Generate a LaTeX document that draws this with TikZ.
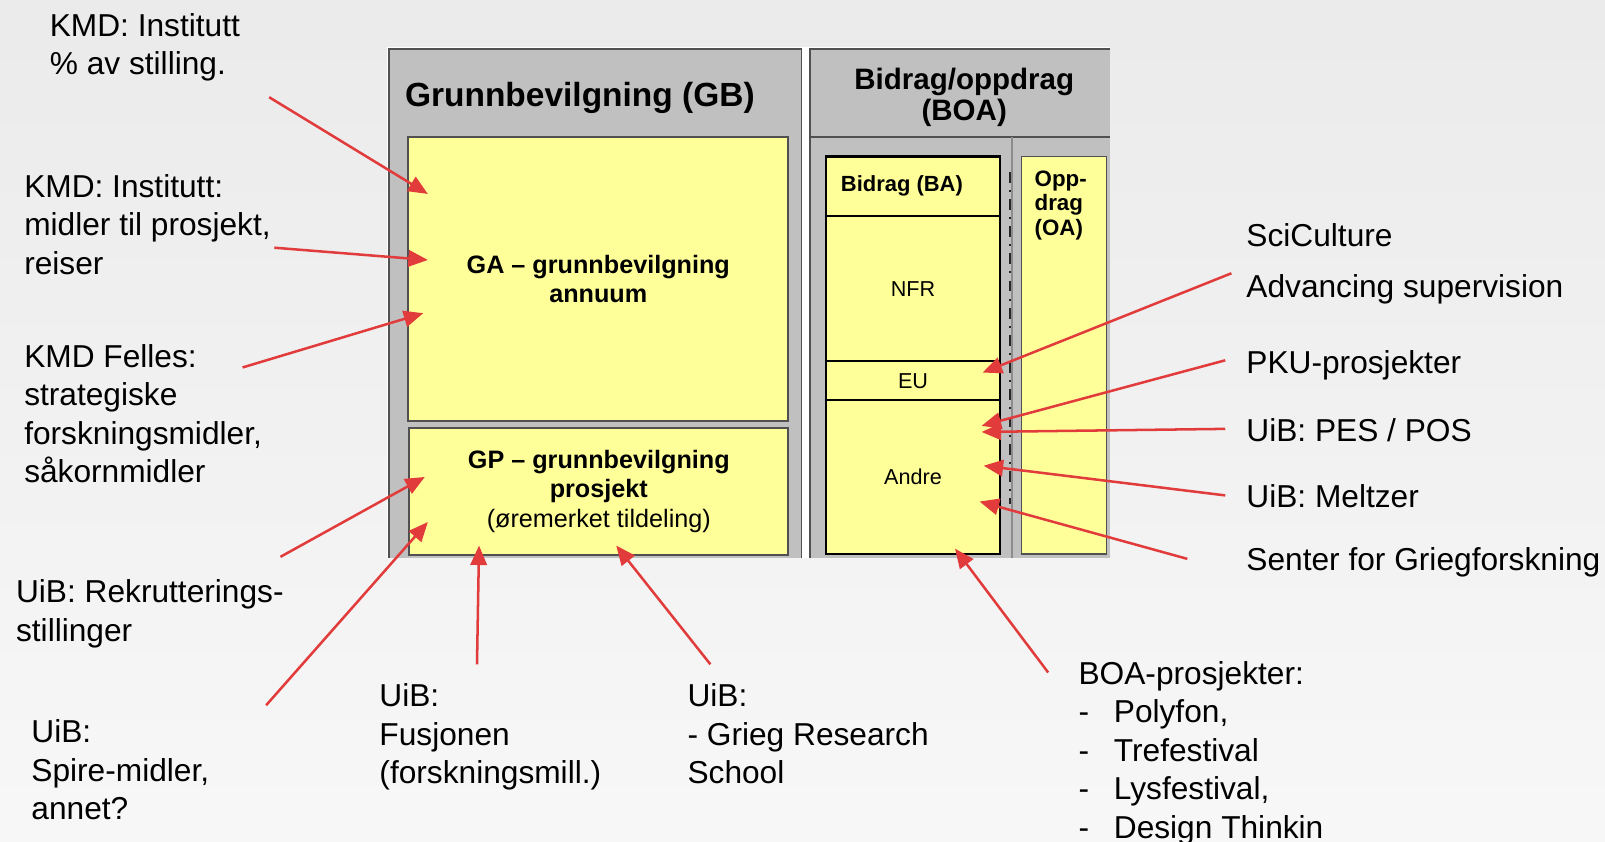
\documentclass[tikz,border=0pt]{standalone}
\usepackage{fontspec}
\setmainfont{Liberation Sans}
\usetikzlibrary{arrows.meta,positioning}

\definecolor{panelgray}{HTML}{C0C0C0}
\definecolor{boxyellow}{HTML}{FFFF99}
\definecolor{arrowred}{HTML}{E23B3B}
\definecolor{edgegray}{HTML}{505050}

\tikzset{
  lbl/.style={align=left, inner sep=0pt, font=\fontsize{8.8}{10.7}\selectfont},
  arr/.style={arrowred, line width=0.7pt, -{Triangle[length=0.19cm,width=0.16cm]}},
  ybox/.style={draw=edgegray, fill=boxyellow, line width=0.5pt, inner sep=0pt},
  bbox/.style={draw=black, fill=boxyellow, line width=0.65pt, inner sep=0pt},
}

\begin{document}
\begin{tikzpicture}[x=0.01cm, y=-0.01cm]
      \useasboundingbox (0,0) rectangle (1568,822.6);
      \shade[top color=black!8, bottom color=black!3] (0,0) rectangle (1568,822.6);
      % Panels:
      \fill[white] (378,45.5) rectangle (1084,545);
      \fill[panelgray] (380,48) rectangle (783,545);
      \draw[edgegray, line width=0.5pt] (380,545) -- (380,48) -- (783,48) -- (783,545);
      \fill[panelgray] (791,48) rectangle (1084,545);
      \draw[edgegray, line width=0.5pt] (791,545) -- (791,48) -- (1084,48);
      \draw[edgegray, line width=0.5pt] (791,134) -- (1084,134);
      \draw[black!45, line width=0.4pt] (988.5,134) -- (988.5,545);
      \draw[black!85, line width=0.55pt, dash dot] (986.5,168) -- (986.5,492);
      \node[anchor=base west, inner sep=0pt, font=\bfseries\fontsize{9.3}{11}\selectfont] (GBt) at (395,104) {Grunnbevilgning (GB)};
      \node[align=center, inner sep=0pt, font=\bfseries\fontsize{8.2}{8.8}\selectfont] (BOAt) at (942,95) {Bidrag/oppdrag\\(BOA)};
      % Boxes:
      \node[ybox, minimum width=3.71cm, minimum height=2.77cm] (GA) at (584.5,272.5) {};
      \node[align=center, font=\bfseries\fontsize{7}{8}\selectfont] at (GA) {GA -- grunnbevilgning\\annuum};
      \node[ybox, minimum width=3.70cm, minimum height=1.24cm] (GP) at (585,480) {};
      \node[align=center, font=\fontsize{7}{8.25}\selectfont] at (GP) {\textbf{GP -- grunnbevilgning}\\\textbf{prosjekt}\\(øremerket tildeling)};
      \node[bbox, minimum width=1.70cm, minimum height=0.58cm] (BA) at (892,182) {};
      \node[anchor=west, inner sep=0pt, font=\bfseries\fontsize{6.1}{7}\selectfont] at ([xshift=0.15cm]BA.west) {Bidrag (BA)};
      \node[bbox, minimum width=1.70cm, minimum height=1.42cm, font=\fontsize{6}{7}\selectfont] (NFR) at (892,282) {NFR};
      \node[bbox, minimum width=1.70cm, minimum height=0.38cm, font=\fontsize{6}{7}\selectfont] (EU) at (892,372) {EU};
      \node[bbox, minimum width=1.70cm, minimum height=1.50cm, font=\fontsize{6}{7}\selectfont] (AN) at (892,466) {Andre};
      \node[ybox, minimum width=0.83cm, minimum height=3.88cm] (OA) at (1039.5,347) {};
      \node[anchor=north west, align=left, inner sep=0pt, font=\bfseries\fontsize{6.2}{6.8}\selectfont] at ([xshift=0.13cm,yshift=-0.14cm]OA.north west) {Opp-\\drag\\(OA)};
      % Labels:
      \node[lbl, anchor=north west] (L1) at (48,12.5) {KMD: Institutt\\\% av stilling.};
      \node[lbl, anchor=north west] (L2) at (23,169.5) {KMD: Institutt:\\midler til prosjekt,\\reiser};
      \node[lbl, anchor=north west] (L3) at (23,335.5) {KMD Felles:\\strategiske\\forskningsmidler,\\såkornmidler};
      \node[lbl, anchor=north west] (L4) at (15,565.5) {UiB: Rekrutterings-\\stillinger};
      \node[lbl, anchor=north west] (L5) at (30,702.5) {UiB:\\Spire-midler,\\annet?};
      \node[lbl, anchor=north west] (L6) at (370,667.5) {UiB:\\Fusjonen\\(forskningsmill.)};
      \node[lbl, anchor=north west] (L7) at (671,667.5) {UiB:\\- Grieg Research\\School};
      \node[lbl, anchor=north west] (L8) at (1053,645.5) {BOA-prosjekter:\\\makebox[0.345cm][l]{-}Polyfon,\\\makebox[0.345cm][l]{-}Trefestival\\\makebox[0.345cm][l]{-}Lysfestival,\\\makebox[0.345cm][l]{-}Design Thinkin};
      \node[lbl, anchor=base west] (R1) at (1217,241) {SciCulture};
      \node[lbl, anchor=base west] (R2) at (1217,291) {Advancing supervision};
      \node[lbl, anchor=base west] (R3) at (1217,365) {PKU-prosjekter};
      \node[lbl, anchor=base west] (R4) at (1217,431) {UiB: PES / POS};
      \node[lbl, anchor=base west] (R5) at (1217,496) {UiB: Meltzer};
      \node[lbl, anchor=base west] (R6) at (1217,557) {Senter for Griegforskning};
      % Arrows:
      \coordinate (s1) at (263,95);   \coordinate (t1) at (418,189.5);
      \coordinate (s2) at (268,242);  \coordinate (t2) at (418,254);
      \coordinate (s3) at (237,359);  \coordinate (t3) at (413.5,306);
      \coordinate (s4) at (274,544);  \coordinate (t4) at (415,466);
      \coordinate (s5) at (260,689);  \coordinate (t5) at (418,510);
      \coordinate (s6) at (466,649);  \coordinate (t6) at (468,533);
      \coordinate (s7) at (694,649);  \coordinate (t7) at (602,533);
      \coordinate (s8) at (1024,657); \coordinate (t8) at (933,536);
      \coordinate (s9) at (1203,267); \coordinate (t9) at (960,364);
      \coordinate (s10) at (1197,352); \coordinate (t10) at (959,416);
      \coordinate (s11) at (1197,419); \coordinate (t11) at (959,422);
      \coordinate (s12) at (1197,484); \coordinate (t12) at (961,455);
      \coordinate (s13) at (1160,546); \coordinate (t13) at (957,490);
      \foreach \i in {1,...,13} \draw[arr] (s\i) -- (t\i);
\end{tikzpicture}
\end{document}
